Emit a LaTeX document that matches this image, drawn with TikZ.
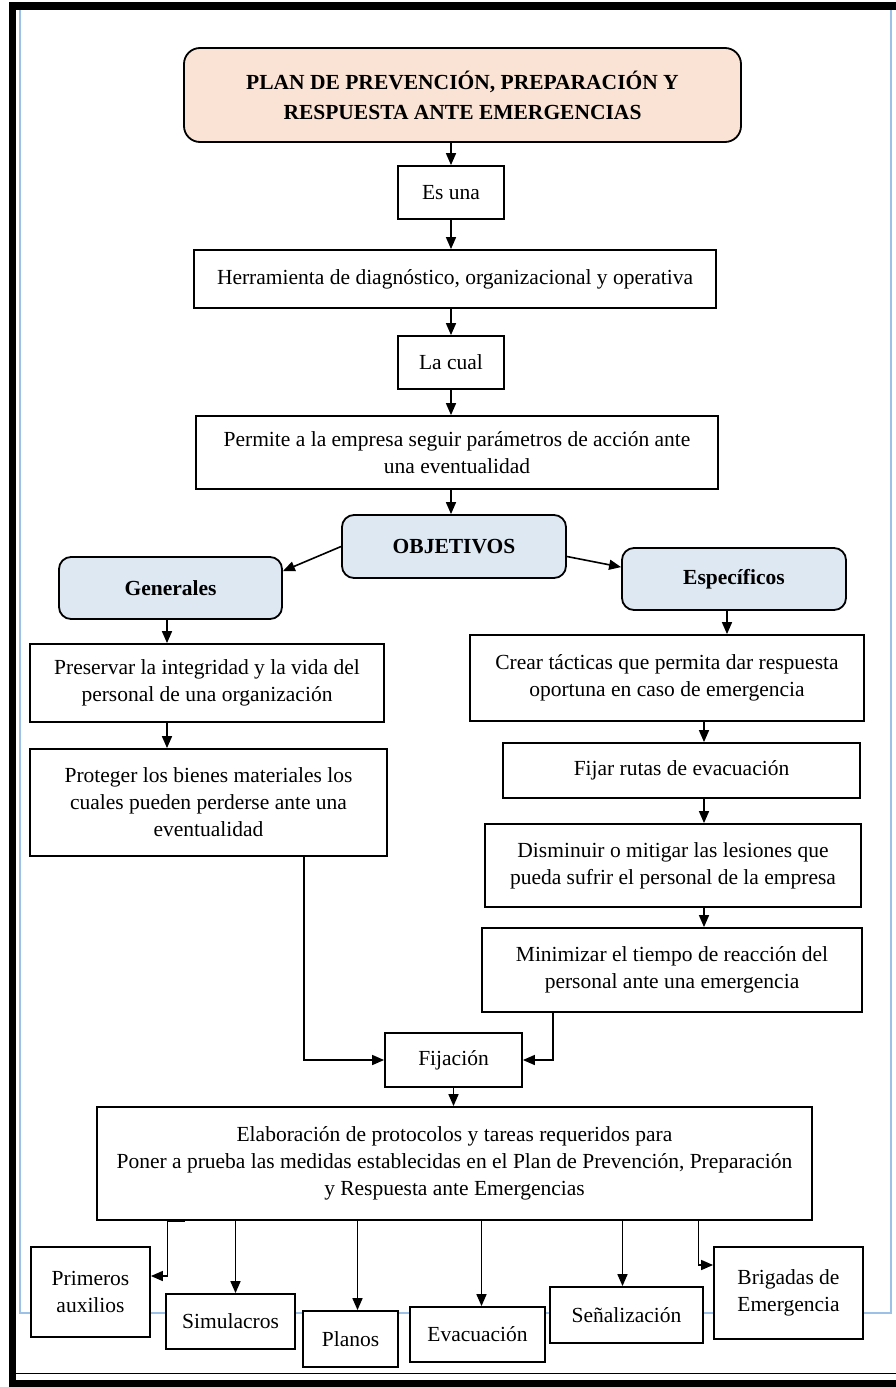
\documentclass[tikz,border=0pt]{standalone}
\usepackage{fontspec}
\setmainfont{Liberation Serif}
\usepackage{tikz}
\usetikzlibrary{arrows.meta}
\usepackage{xcolor}
\definecolor{titlefill}{RGB}{250,226,212}
\definecolor{objfill}{RGB}{221,232,243}
\definecolor{pageblue}{RGB}{155,194,230}

\begin{document}
\begin{tikzpicture}[x=1pt,y=-1pt,>={Triangle[length=12pt,width=10pt]},
  box/.style={draw, line width=1.8pt, fill=white, align=center, inner sep=2pt,
    font=\fontsize{21.5}{27}\selectfont},
  headbox/.style={box, rounded corners=12pt, fill=objfill,
    font=\bfseries\fontsize{21.5}{27}\selectfont},
  link/.style={->, line width=1.6pt}]
\useasboundingbox (0,0) rectangle (896,1387);
%%%PAGE
\fill[white] (0,0) rectangle (896,1387);
\draw[pageblue, line width=1.5pt] (20,10) -- (20,1313) -- (891,1313) -- (891,10);
\fill[black] (9,2) rectangle (896,10);
\fill[black] (9,2) rectangle (16,1387);
\fill[black] (9,1380) rectangle (896,1387);
\draw[line width=1pt] (16,1373) -- (896,1373);
%%%COLUMNS
\coordinate (lcol) at (167,0);
\coordinate (mcol) at (451,0);
\coordinate (rcol) at (704,0);
\coordinate (pcol) at (304,0);
\coordinate (qcol) at (553,0);
%%%BOXES
\node[headbox, fill=titlefill, rounded corners=16pt, minimum width=557pt, minimum height=94pt,
  font=\bfseries\fontsize{21.5}{30}\selectfont] (title) at (462.5,95)
  {PLAN DE PREVENCIÓN, PREPARACIÓN Y\\RESPUESTA ANTE EMERGENCIAS};
\node[box, minimum width=106pt, minimum height=53pt] (esuna) at (451,192.5) {Es una};
\node[box, minimum width=522pt, minimum height=58pt] (herramienta) at (455,279)
  {Herramienta de diagnóstico, organizacional y operativa};
\node[box, minimum width=106pt, minimum height=53pt] (lacual) at (451,362.5) {La cual};
\node[box, minimum width=522pt, minimum height=73pt] (permite) at (457,452.5)
  {Permite a la empresa seguir parámetros de acción ante\\una eventualidad};
\node[headbox, minimum width=224pt, minimum height=63pt] (objetivos) at (454,546.5) {OBJETIVOS};
\node[headbox, minimum width=223pt, minimum height=62pt] (generales) at (170.5,588) {Generales};
\node[headbox, minimum width=224pt, minimum height=62pt] (especificos) at (734,579) {Específicos};
\node[box, minimum width=354pt, minimum height=78pt] (preservar) at (207,683)
  {Preservar la integridad y la vida del\\personal de una organización};
\node[box, minimum width=357pt, minimum height=107pt] (proteger) at (208.5,802.5)
  {Proteger los bienes materiales los\\cuales pueden perderse ante una\\eventualidad};
\node[box, minimum width=394pt, minimum height=86pt] (crear) at (667,678)
  {Crear tácticas que permita dar respuesta\\oportuna en caso de emergencia};
\node[box, minimum width=357pt, minimum height=55pt] (fijar) at (681.5,770.5)
  {Fijar rutas de evacuación};
\node[box, minimum width=376pt, minimum height=83pt] (disminuir) at (673,865.5)
  {Disminuir o mitigar las lesiones que\\pueda sufrir el personal de la empresa};
\node[box, minimum width=380pt, minimum height=84pt] (minimizar) at (672,970)
  {Minimizar el tiempo de reacción del\\personal ante una emergencia};
\node[box, minimum width=137pt, minimum height=54pt] (fijacion) at (453.5,1060) {Fijación};
\node[box, minimum width=715pt, minimum height=113pt] (elaboracion) at (454.5,1163.5)
  {Elaboración de protocolos y tareas requeridos para\\Poner a prueba las medidas establecidas en el Plan de Prevención, Preparación\\y Respuesta ante Emergencias};
\node[box, minimum width=119pt, minimum height=90pt] (primeros) at (90.5,1292) {Primeros\\auxilios};
\node[box, minimum width=129pt, minimum height=55pt] (simulacros) at (230.5,1321.5) {Simulacros};
\node[box, minimum width=95pt, minimum height=56pt] (planos) at (350.5,1339) {Planos};
\node[box, minimum width=135pt, minimum height=55pt] (evacuacion) at (477.5,1334.5) {Evacuación};
\node[box, minimum width=153pt, minimum height=56pt] (senal) at (626.5,1315) {Señalización};
\node[box, minimum width=149pt, minimum height=92pt] (brigadas) at (788.5,1293) {Brigadas de\\Emergencia};
%%%ARROWS
\draw[link] (title.south -| mcol) -- (esuna.north -| mcol);
\draw[link] (esuna.south -| mcol) -- (herramienta.north -| mcol);
\draw[link] (herramienta.south -| mcol) -- (lacual.north -| mcol);
\draw[link] (lacual.south -| mcol) -- (permite.north -| mcol);
\draw[link] (permite.south -| mcol) -- (objetivos.north -| mcol);
\draw[link] (objetivos.west) -- ([yshift=-15pt]generales.north east);
\draw[link] ([yshift=-10pt]objetivos.east) -- ([yshift=-20pt]especificos.north west);
\draw[link] (generales.south -| lcol) -- (preservar.north -| lcol);
\draw[link] (preservar.south -| lcol) -- (proteger.north -| lcol);
\draw[link] ([xshift=-7pt]especificos.south) -- ([xshift=-7pt]especificos.south |- crear.north);
\draw[link] (crear.south -| rcol) -- (fijar.north -| rcol);
\draw[link] (fijar.south -| rcol) -- (disminuir.north -| rcol);
\draw[link] (disminuir.south -| rcol) -- (minimizar.north -| rcol);
\draw[link] (proteger.south -| pcol) |- (fijacion.west);
\draw[link] (minimizar.south -| qcol) |- (fijacion.east);
\draw[link] (fijacion.south) -- (fijacion.south |- elaboracion.north);
\draw[link] ([xshift=-270pt]elaboracion.south) -- ([xshift=-287pt]elaboracion.south)
  |- ([yshift=16pt]primeros.east);
\foreach \n/\s in {simulacros/5, planos/7, evacuacion/4, senal/-4}
  \draw[link] ([xshift=\s pt]elaboracion.south -| \n.north) -- ([xshift=\s pt]\n.north);
\draw[link] ([xshift=244pt]elaboracion.south) |- ([yshift=28pt]brigadas.west);
\end{tikzpicture}
\end{document}
